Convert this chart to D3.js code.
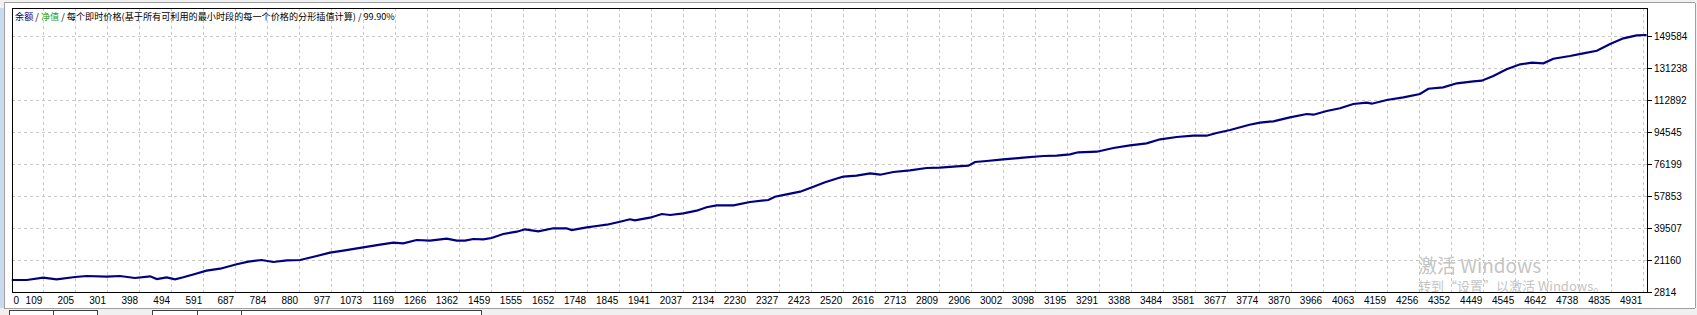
<!DOCTYPE html>
<html><head><meta charset="utf-8">
<script src="https://cdn.jsdelivr.net/npm/d3@7/dist/d3.min.js"></script>
<style>
html,body{margin:0;padding:0;background:#f0f0f0;overflow:hidden;}
svg{display:block;}
</style></head>
<body>
<svg id="c" width="1697" height="315"></svg>
<script>
const xTicks = [0,109,205,301,398,494,591,687,784,880,977,1073,1169,1266,1362,1459,1555,1652,1748,1845,1941,2037,2134,2230,2327,2423,2520,2616,2713,2809,2906,3002,3098,3195,3291,3388,3484,3581,3677,3774,3870,3966,4063,4159,4256,4352,4449,4545,4642,4738,4835,4931];
const yTicks = [2814,21160,39507,57853,76199,94545,112892,131238,149584];
const trades = [14,59,109,149,205,240,300,340,385,431,451,481,506,531,566,601,642,692,727,767,802,843,883,933,973,1013,1073,1124,1164,1194,1234,
1274,1325,1355,1380,1405,1435,1460,1495,1536,1561,1601,1646,1686,1701,1747,1777,1807,1847,1877,1892,1937,1973,1998,2038,2078,2108,2138,2189,2239,2294,2314,2349,2390,2430,2465,2508,
2520,2560,2601,2631,2671,2721,2771,2811,2862,2897,2917,2952,3002,3062,3123,3163,3203,3228,3284,3334,3384,3434,3475,3525,3575,3615,3645,3686,3744,
3776,3816,3866,3917,3937,3977,4017,4057,4097,4113,4158,4208,4258,4283,4328,4369,4419,4444,4479,4519,4560,4595,4630,4660,4710,4750,4791,4831,4871,4911,4941];
const balance = [9870,9870,11180,10270,11590,12160,11760,12160,11010,11990,10440,11410,10270,11410,13310,15200,16340,18870,20360,21330,20190,21160,21330,23630,25520,26660,28610,30100,31250,30910,32800,
32400,33540,32400,32400,33370,33200,33940,36240,37560,38930,37790,39510,39510,38530,40080,40820,41570,43290,44670,44090,45580,47700,47130,48100,49600,51550,52690,52690,54580,55730,57620,59000,60490,63350,65880,68510,
69090,69660,71040,70230,71780,72760,74080,74250,75050,75390,77520,78090,79060,79980,80950,81130,81930,83080,83420,85540,87090,88240,90530,91850,92590,92590,94140,95860,98900,
100050,100850,103140,105030,104630,106750,108300,110770,111510,110940,113060,114610,116500,119540,120340,122630,123780,124120,126820,130660,133530,134440,134100,136740,138290,139830,141320,145160,148430,150150,150320];
const titleBalance = "余额";
const titleEquity = "净值";
const titleSep = " / ";
const titleRest = " / 每个即时价格(基于所有可利用的最小时段的每一个价格的分形插值计算) / 99.90%";
const watermark1 = "激活 Windows";
const watermark2 = "转到“设置”以激活 Windows。";

const svg = d3.select("#c");
const L = 12, R = 1648, T = 8, B = 293;

// window chrome
svg.append("rect").attr("x",0).attr("y",0).attr("width",1697).attr("height",315).attr("fill","#f0f0f0");
svg.append("rect").attr("x",4).attr("y",3).attr("width",1691).attr("height",305).attr("fill","#ffffff");
svg.append("rect").attr("x",0).attr("y",8).attr("width",4).attr("height",300).attr("fill","#c9dbef");
svg.append("line").attr("x1",4.5).attr("x2",4.5).attr("y1",3).attr("y2",308).attr("stroke","#a0a0a0");
svg.append("line").attr("x1",4).attr("x2",1695).attr("y1",2.5).attr("y2",2.5).attr("stroke","#a0a0a0");
svg.append("line").attr("x1",1695.5).attr("x2",1695.5).attr("y1",3).attr("y2",308).attr("stroke","#a0a0a0");
svg.append("line").attr("x1",4).attr("x2",1695).attr("y1",308.5).attr("y2",308.5).attr("stroke","#a0a0a0");
// bottom tab boxes
const tabs = svg.append("g").attr("fill","#ffffff").attr("stroke","#404040");
tabs.append("rect").attr("x",9.5).attr("y",310.5).attr("width",88).attr("height",10);
tabs.append("line").attr("x1",53.5).attr("x2",53.5).attr("y1",310.5).attr("y2",315);
tabs.append("rect").attr("x",152.5).attr("y",310.5).attr("width",329).attr("height",10);
tabs.append("line").attr("x1",197.5).attr("x2",197.5).attr("y1",310.5).attr("y2",315);
tabs.append("line").attr("x1",241.5).attr("x2",241.5).attr("y1",310.5).attr("y2",315);

const x = d3.scaleLinear().domain([109, 4931]).range([43.3, 1643.3]);
const y = d3.scaleLinear().domain([2814, 149584]).range([292.3, 36.3]);

// grid
const grid = svg.append("g").attr("stroke","#c8c8c8").attr("stroke-dasharray","3,3").attr("shape-rendering","crispEdges");
grid.selectAll(".vx").data(xTicks.filter(v => x(v) > L + 2)).enter().append("line")
  .attr("x1", d => Math.round(x(d)) + 0.5).attr("x2", d => Math.round(x(d)) + 0.5)
  .attr("y1", T).attr("y2", B);
grid.selectAll(".hy").data(yTicks.filter(v => y(v) < B - 2)).enter().append("line")
  .attr("y1", d => Math.round(y(d)) + 0.5).attr("y2", d => Math.round(y(d)) + 0.5)
  .attr("x1", L).attr("x2", R);

// watermark (clipped to the plot area, as in the reference)
svg.append("clipPath").attr("id","plotclip").append("rect").attr("x",L).attr("y",T).attr("width",R-L).attr("height",B-T-1);
const wm = svg.append("g").attr("fill","#c4c4c4").attr("clip-path","url(#plotclip)")
  .attr("font-family","'Noto Sans CJK SC','Noto Sans',sans-serif");
wm.append("text").attr("x",1418).attr("y",273).attr("font-size",19).text(watermark1);
wm.append("text").attr("x",1418).attr("y",291).attr("font-size",13).text(watermark2);

// line
const line = d3.line().x((d,i) => x(trades[i])).y(d => y(d));
svg.append("path").datum(balance).attr("d", line).attr("fill","none")
  .attr("stroke","#000080").attr("stroke-width",2.2).attr("stroke-linejoin","miter");

// frame
svg.append("rect").attr("x",L+0.5).attr("y",T+0.5).attr("width",R-L-1).attr("height",B-T-1)
  .attr("fill","none").attr("stroke","#000").attr("shape-rendering","crispEdges");

// y axis
const ya = svg.append("g").attr("font-family","'Liberation Sans',Arial,sans-serif").attr("font-size",10).attr("fill","#000");
yTicks.forEach(v => {
  const yy = Math.round(y(v)) + 0.5;
  ya.append("line").attr("x1",R).attr("x2",R+4).attr("y1",yy).attr("y2",yy).attr("stroke","#000");
  ya.append("text").attr("x",R+6).attr("y",yy).attr("dy","0.35em").text(v);
});

// x axis labels
const xa = svg.append("g").attr("font-family","'Liberation Sans',Arial,sans-serif").attr("font-size",10).attr("fill","#000");
xTicks.forEach(v => {
  const xx = x(v);
  if (xx < L + 4) {
    xa.append("text").attr("x", L + 1.5).attr("y", 304).attr("text-anchor","start").text(v);
  } else {
    xa.append("text").attr("x", xx - 1).attr("y", 304).attr("text-anchor","end").text(v);
  }
});

// title (font size adjusted so the whole line spans ~380px as in the reference)
const tt = svg.append("text").attr("x",15).attr("y",20).attr("font-size",9)
  .attr("font-family","'Noto Sans CJK SC','Noto Sans',sans-serif").attr("fill","#000");
tt.append("tspan").attr("fill","#000080").text(titleBalance);
tt.append("tspan").attr("fill","#000").text(titleSep);
tt.append("tspan").attr("fill","#20a020").text(titleEquity);
tt.append("tspan").attr("fill","#000").text(titleRest);
const tw = tt.node().getComputedTextLength();
if (tw > 0) tt.attr("font-size", Math.max(8, Math.min(11, 9 * 380 / tw)));
</script>
</body></html>
